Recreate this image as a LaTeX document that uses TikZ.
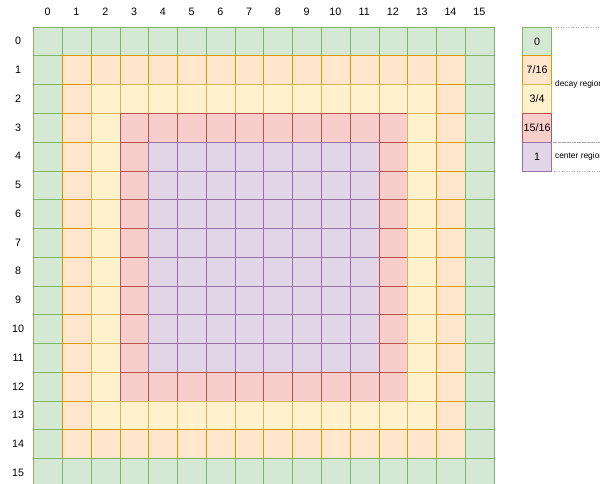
\documentclass[tikz,border=0pt]{standalone}
\usepackage{fontspec}
\setmainfont{Liberation Sans}
\usetikzlibrary{positioning}
\definecolor{FillGreen}{HTML}{D5E8D4}
\definecolor{EdgeGreen}{HTML}{82B366}
\definecolor{FillOrange}{HTML}{FFE6CC}
\definecolor{EdgeOrange}{HTML}{D79B00}
\definecolor{FillYellow}{HTML}{FFF2CC}
\definecolor{EdgeYellow}{HTML}{D6B656}
\definecolor{FillRed}{HTML}{F8CECC}
\definecolor{EdgeRed}{HTML}{B85450}
\definecolor{FillPurple}{HTML}{E1D5E7}
\definecolor{EdgePurple}{HTML}{9673A6}
\begin{document}
\begin{tikzpicture}[
    x=1cm,y=-1cm,
    cell/.style={draw, minimum size=1cm, inner sep=0pt, anchor=north west, line width=0.6pt, font=\fontsize{10.6}{12}\selectfont},
    reg0/.style={cell, draw=EdgeGreen, fill=FillGreen},
    reg1/.style={cell, draw=EdgeOrange, fill=FillOrange},
    reg2/.style={cell, draw=EdgeYellow, fill=FillYellow},
    reg3/.style={cell, draw=EdgeRed, fill=FillRed},
    reg4/.style={cell, draw=EdgePurple, fill=FillPurple},
    idx/.style={font=\fontsize{10.6}{12}\selectfont, inner sep=0pt},
    note/.style={draw=gray!70, dotted, line width=0.5pt, minimum width=3cm, inner sep=0pt, anchor=north west},
    notetext/.style={font=\fontsize{8.3}{9}\selectfont, inner sep=0pt}
  ]
    \path[use as bounding box, clip] (-1.158,-0.928) rectangle (19.697,15.895);
    % grid cells, region = distance to the border
    \foreach \j in {0,...,15} {
      \foreach \i in {0,...,15} {
        \pgfmathtruncatemacro\ring{min(\i,\j,15-\i,15-\j,4)}
        \node[reg\ring] (c-\i-\j) at (\i,\j) {};
      }
    }
    % indices
    \foreach \i in {0,...,15} {
      \node[idx] (col\i) at (\i+0.5,-0.51) {\i};
      \node[idx] (row\i) at (-0.53,\i+0.5) {\i};
    }
    % legend
    \node[note, minimum height=4cm] (decay) at (18,0) {};
    \node[note, minimum height=1cm] (centerbox) at (18,4) {};
    \node[notetext, right=0.13cm of decay.west] (decaylab) {decay region};
    \node[notetext, right=0.13cm of centerbox.west] (centerlab) {center region};
    \foreach \k/\lab in {0/0,1/7\slash 16,2/3\slash 4,3/15\slash 16,4/1} {
      \node[reg\k] (key\k) at (17,\k) {\lab};
    }
  \end{tikzpicture}
\end{document}
